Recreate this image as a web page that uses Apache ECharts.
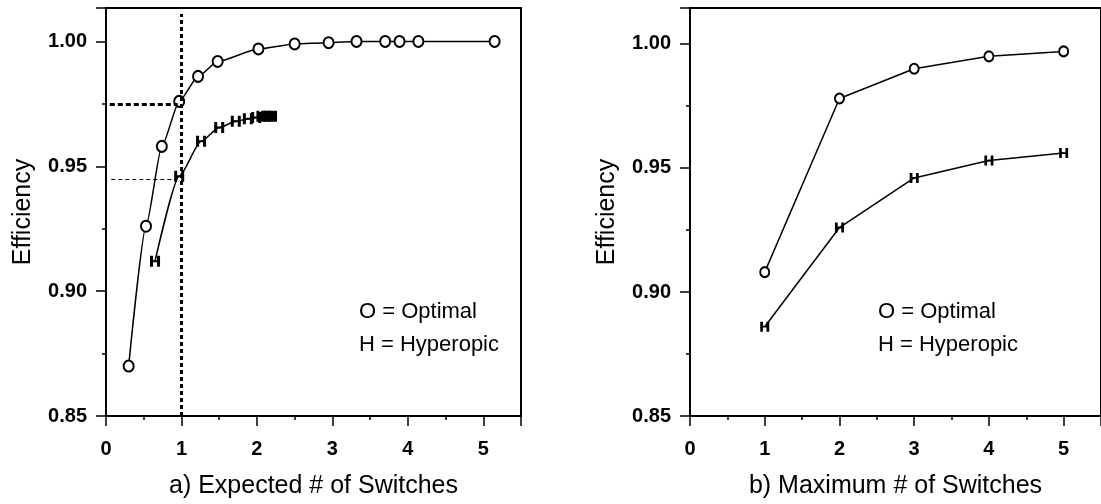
<!DOCTYPE html>
<html style="height: 100%">
  <head>
    <meta charset="utf-8" />
  </head>
  <body style="height: 100%; margin: 0; background: #fff">
    <div id="container" style="width: 1101px; height: 504px"></div>
    <script
      type="text/javascript"
      src="https://cdn.jsdelivr.net/npm/echarts@6/dist/echarts.min.js"
    ></script>

    <script type="text/javascript">
      var dom = document.getElementById("container");
      var myChart = echarts.init(dom, null, { renderer: "canvas" });

      // a) expected number of switches
      let optX = [0.30, 0.53, 0.74, 0.97, 1.22, 1.48, 2.02, 2.50, 2.95, 3.32, 3.70, 3.89, 4.14, 5.15];
      let optY = [0.870, 0.926, 0.958, 0.976, 0.986, 0.992, 0.997, 0.999, 0.9995, 1.000, 1.000, 1.000, 1.000, 1.000];
      let hypX = [0.65, 0.97, 1.26, 1.50, 1.72, 1.88, 1.99, 2.06, 2.12, 2.16, 2.20];
      let hypY = [0.912, 0.946, 0.960, 0.9655, 0.968, 0.969, 0.9695, 0.970, 0.970, 0.970, 0.970];
      // b) maximum number of switches
      let maxX = [1, 2, 3, 4, 5];
      let optMax = [0.908, 0.978, 0.990, 0.995, 0.997];
      let hypMax = [0.886, 0.926, 0.946, 0.953, 0.956];
      // reference lines on plot a)
      let refX = 1;
      let refOpt = 0.975;
      let refHyp = 0.945;

      const zip = (xs, ys) => xs.map((x, i) => [x, ys[i]]);
      const hPath = "path://M0,0H3V4.5H7V0H10V11H7V6.5H3V11H0Z";
      const tickFont = { fontFamily: "Liberation Sans", fontWeight: "bold", fontSize: 20, color: "#000" };

      function xAxisOf(idx, name) {
        return {
          type: "value",
          gridIndex: idx,
          min: 0,
          max: 5.5,
          interval: 1,
          name: name,
          nameLocation: "middle",
          nameGap: 58,
          nameTextStyle: { fontFamily: "Liberation Sans", fontSize: 25, color: "#000" },
          axisLine: { onZero: false, lineStyle: { color: "#000", width: 2 } },
          axisTick: { length: 10, lineStyle: { color: "#000", width: 1.5 } },
          minorTick: { show: true, splitNumber: 2, length: 4, lineStyle: { color: "#000", width: 1.5 } },
          axisLabel: Object.assign({ margin: 23, showMaxLabel: false }, tickFont),
          splitLine: { show: false },
        };
      }
      function yAxisOf(idx, max) {
        return {
          type: "value",
          gridIndex: idx,
          min: 0.85,
          max: max,
          interval: 0.05,
          name: "Efficiency",
          nameLocation: "middle",
          nameGap: 70,
          nameTextStyle: { fontFamily: "Liberation Sans", fontSize: 25, color: "#000" },
          axisLine: { lineStyle: { color: "#000", width: 2 } },
          axisTick: { length: 10, lineStyle: { color: "#000", width: 1.5 } },
          minorTick: { show: true, splitNumber: 2, length: 4, lineStyle: { color: "#000", width: 1.5 } },
          axisLabel: Object.assign({ margin: 19, showMaxLabel: false, formatter: (v) => v.toFixed(2) }, tickFont),
          splitLine: { show: false },
        };
      }

      function oSeries(idx, data, smooth, size) {
        return {
          type: "line",
          xAxisIndex: idx,
          yAxisIndex: idx,
          data: data,
          smooth: smooth,
          smoothMonotone: "x",
          symbol: "emptyCircle",
          symbolSize: size,
          itemStyle: { color: "#000", borderColor: "#000", borderWidth: 2 },
          lineStyle: { color: "#000", width: 1.5 },
          z: 3,
        };
      }
      function hSeries(idx, data, smooth, size) {
        return {
          type: "line",
          xAxisIndex: idx,
          yAxisIndex: idx,
          data: data,
          smooth: smooth,
          smoothMonotone: "x",
          symbol: hPath,
          symbolSize: size,
          itemStyle: { color: "#000", borderWidth: 0 },
          lineStyle: { color: "#000", width: 1.5 },
          z: 3,
        };
      }

      const legendText = (left) => ({
        type: "text",
        left: left,
        top: 295,
        style: {
          text: "O = Optimal\nH = Hyperopic",
          fontFamily: "Liberation Sans",
          fontSize: 22,
          lineHeight: 33,
          fill: "#000",
        },
      });

      let option = {
        animation: false,
        backgroundColor: "#fff",
        grid: [
          { left: 106, top: 8, width: 415, bottom: 84, show: true, borderColor: "#000", borderWidth: 2 },
          { left: 690, top: 8, right: -5, bottom: 84, show: true, borderColor: "#000", borderWidth: 2 },
        ],
        xAxis: [xAxisOf(0, "a) Expected # of Switches"), xAxisOf(1, "b) Maximum # of Switches")],
        yAxis: [yAxisOf(0, 1.0134), yAxisOf(1, 1.0145)],
        graphic: [legendText(359), legendText(878)],
        series: [
          Object.assign(oSeries(0, zip(optX, optY), 0.2, [10, 11]), {
            markLine: {
              silent: true,
              symbol: "none",
              label: { show: false },
              data: [
                [
                  { coord: [refX, 0.85], lineStyle: { type: [4, 3], width: 3, color: "#000" } },
                  { coord: [refX, 1.011] },
                ],
                [
                  { coord: [0.05, refOpt], lineStyle: { type: [5, 3], width: 3, color: "#000" } },
                  { coord: [0.95, refOpt] },
                ],
                [
                  { coord: [0.07, refHyp], lineStyle: { type: [4, 3], width: 1, color: "#000" } },
                  { coord: [0.93, refHyp] },
                ],
              ],
            },
          }),
          hSeries(0, zip(hypX, hypY), 0.2, [10, 11]),
          oSeries(1, zip(maxX, optMax), false, [9, 10]),
          hSeries(1, zip(maxX, hypMax), false, [9, 10]),
        ],
      };

      myChart.setOption(option);
    </script>
  </body>
</html>
